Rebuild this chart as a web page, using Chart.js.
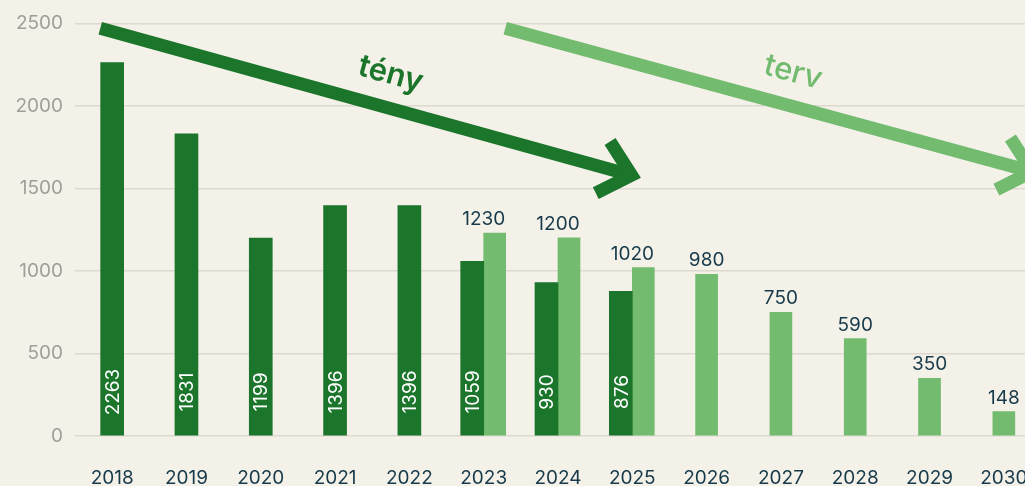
<!DOCTYPE html>
<html>
<head>
<meta charset="utf-8">
<script src="https://cdn.jsdelivr.net/npm/chart.js@4.4.1/dist/chart.umd.min.js"></script>
<style>
	html, body { margin: 0; padding: 0; background: #f4f1e9; overflow: hidden; }
	#volume-chart { display: block; }
</style>
</head>
<body>
<canvas id="volume-chart" width="1041" height="486"></canvas>
<script>
	// chart data
	var years = ['2018', '2019', '2020', '2021', '2022', '2023', '2024', '2025', '2026', '2027', '2028', '2029', '2030'];
	var actual = [2263, 1831, 1199, 1396, 1396, 1059, 930, 876, null, null, null, null, null];
	var planned = [null, null, null, null, null, 1230, 1200, 1020, 980, 750, 590, 350, 148];
	var yTicks = [0, 500, 1000, 1500, 2000, 2500];

	var darkGreen = '#1b752b';
	var lightGreen = '#72bb6f';
	var navy = '#173a4b';
	var font = 'Inter, "Noto Sans", sans-serif';

	// trend arrows, given in category index / value units
	var arrows = [
		{ label: 'tény', colour: darkGreen, weight: 600, from: [-0.16, 2470], to: [6.99, 1580] },
		{ label: 'terv', colour: lightGreen, weight: 500, from: [5.29, 2470], to: [12.38, 1602] }
	];

	const valueLabels = {
		id: 'valueLabels',
		afterDatasetsDraw(chart) {
			const ctx = chart.ctx;
			const x = chart.scales.x;
			const y = chart.scales.y;
			const base = y.getPixelForValue(0);
			ctx.save();
			ctx.font = '400 19px ' + font;

			// actual values, vertical inside the bar
			chart.getDatasetMeta(0).data.forEach(function(bar, i) {
				if (actual[i] === null) return;
				ctx.save();
				ctx.translate(bar.x, base - 44);
				ctx.rotate(-Math.PI / 2);
				ctx.fillStyle = '#ffffff';
				ctx.textAlign = 'center';
				ctx.textBaseline = 'middle';
				ctx.fillText(String(actual[i]), 0, 1);
				ctx.restore();
			});

			// planned values above the bars, centred on the year
			chart.getDatasetMeta(1).data.forEach(function(bar, i) {
				if (planned[i] === null) return;
				ctx.fillStyle = navy;
				ctx.textAlign = 'center';
				ctx.textBaseline = 'alphabetic';
				ctx.fillText(String(planned[i]), x.getPixelForValue(i), bar.y - 8);
			});
			ctx.restore();
		}
	};

	const trendArrows = {
		id: 'trendArrows',
		afterDatasetsDraw(chart) {
			const ctx = chart.ctx;
			const x = chart.scales.x;
			const y = chart.scales.y;
			arrows.forEach(function(a) {
				var x1 = x.getPixelForValue(a.from[0]), y1 = y.getPixelForValue(a.from[1]);
				var x2 = x.getPixelForValue(a.to[0]), y2 = y.getPixelForValue(a.to[1]);
				var ang = Math.atan2(y2 - y1, x2 - x1);
				var head = 40, spread = 42 * Math.PI / 180;

				ctx.save();
				ctx.strokeStyle = a.colour;
				ctx.lineWidth = 13;
				ctx.lineCap = 'butt';
				ctx.lineJoin = 'miter';
				ctx.beginPath();
				ctx.moveTo(x1, y1);
				ctx.lineTo(x2, y2);
				ctx.stroke();

				ctx.beginPath();
				ctx.moveTo(x2 - head * Math.cos(ang - spread), y2 - head * Math.sin(ang - spread));
				ctx.lineTo(x2, y2);
				ctx.lineTo(x2 - head * Math.cos(ang + spread), y2 - head * Math.sin(ang + spread));
				ctx.stroke();

				// label above the shaft
				var t = 0.53;
				var tx = x1 + (x2 - x1) * t + Math.sin(ang) * 33;
				var ty = y1 + (y2 - y1) * t - Math.cos(ang) * 33;
				ctx.translate(tx, ty);
				ctx.rotate(ang);
				ctx.fillStyle = a.colour;
				ctx.font = a.weight + ' 31px ' + font;
				ctx.textAlign = 'center';
				ctx.textBaseline = 'middle';
				ctx.fillText(a.label, 0, 0);
				ctx.restore();
			});
		}
	};

	const chartElem = document.getElementById('volume-chart');

	new Chart(chartElem, {
		type: 'bar',
		data: {
			labels: years,
			datasets: [
				{
					label: 'tény',
					data: actual,
					backgroundColor: darkGreen,
					borderWidth: 0,
					barThickness: 23,
					skipNull: true
				},
				{
					label: 'terv',
					data: planned,
					backgroundColor: lightGreen,
					borderWidth: 0,
					barThickness: 22,
					skipNull: true
				}
			]
		},
		options: {
			responsive: false,
			animation: false,
			layout: {
				padding: { top: 21, right: 0, bottom: 0, left: 0 }
			},
			scales: {
				x: {
					grid: { display: false },
					border: { display: false },
					ticks: {
						color: navy,
						padding: 23,
						font: { family: font, size: 19 }
					},
					afterFit: function(scale) {
						scale.height = 50;
						scale.paddingLeft = 0;
						scale.paddingRight = 0;
					}
				},
				y: {
					min: 0,
					max: 2500,
					afterBuildTicks: function(scale) {
						scale.ticks = yTicks.map(function(v) { return { value: v }; });
					},
					grid: {
						color: '#dcd9d1',
						lineWidth: 1.5,
						drawTicks: false
					},
					border: { display: false },
					ticks: {
						color: '#a19e99',
						padding: 12,
						font: { family: font, size: 19 },
						callback: function(v) { return String(v); }
					},
					afterFit: function(scale) { scale.width = 75; }
				}
			},
			plugins: {
				legend: { display: false },
				tooltip: { enabled: false }
			}
		},
		plugins: [valueLabels, trendArrows]
	});
</script>
</body>
</html>
